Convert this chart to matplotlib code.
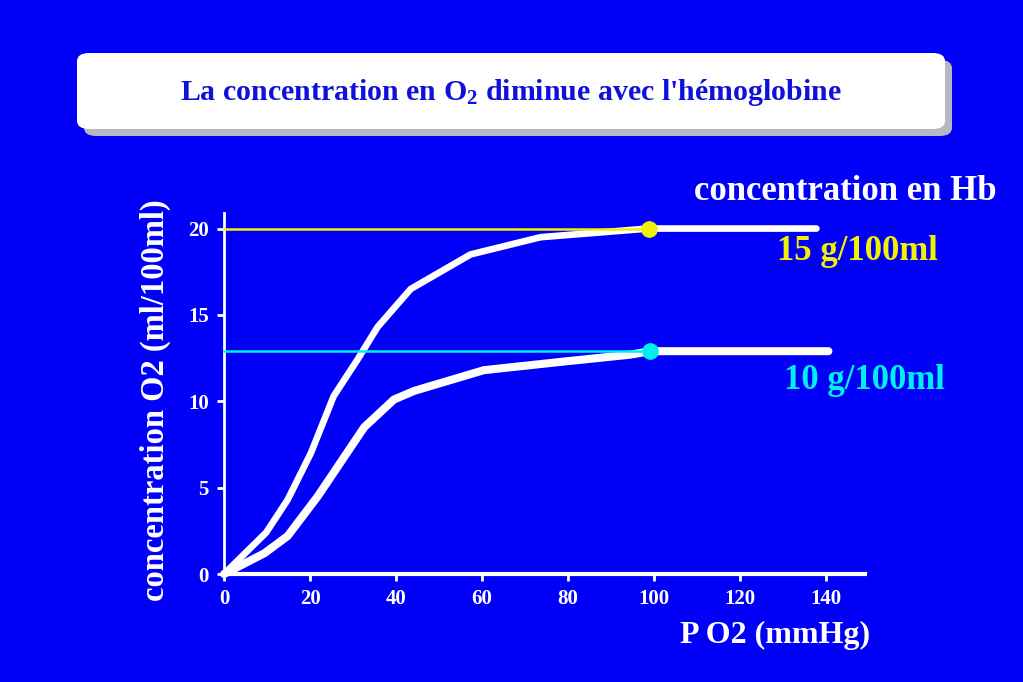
"""Courbes de dissociation de l'O2 pour deux concentrations d'hémoglobine."""

import matplotlib.pyplot as plt
from matplotlib.patches import FancyBboxPatch

BG = "#0000f8"

# PO2 (mmHg) -> concentration O2 (ml/100ml)
po2_hb15 = [0, 9.8, 14.8, 20.2, 25.5, 31, 35.7, 43.4, 57.3, 73.6, 98.7, 137.7]
o2_hb15 = [0, 2.4, 4.3, 7.0, 10.3, 12.4, 14.3, 16.5, 18.5, 19.5, 20.0, 20.0]
po2_hb10 = [0, 9.4, 14.8, 21.8, 32.6, 39.5, 44.2, 60.4, 79, 94.5, 99.1, 140.5]
o2_hb10 = [0, 1.2, 2.2, 4.5, 8.5, 10.1, 10.6, 11.8, 12.3, 12.7, 12.9, 12.9]

# points d'équilibre artériel (PO2 ~ 100 mmHg)
sat_x = [98.7, 99.1]
sat_y = [20.0, 12.9]
sat_colors = ["#f2f200", "#00f0f0"]
hb_labels = ["15 g/100ml", "10 g/100ml"]

x_ticks = [0, 20, 40, 60, 80, 100, 120, 140]
y_ticks = [0, 5, 10, 15, 20]

plt.rcParams["font.family"] = ["Liberation Serif", "DejaVu Serif"]
plt.rcParams["font.weight"] = "bold"
plt.rcParams["mathtext.fontset"] = "custom"
plt.rcParams["mathtext.rm"] = "Liberation Serif:bold"
plt.rcParams["mathtext.bf"] = "Liberation Serif:bold"
plt.rcParams["mathtext.default"] = "bf"

fig = plt.figure(figsize=(10.23, 6.82), dpi=100)
fig.patch.set_facecolor(BG)

# title box with shadow
W, H = 1023, 682
shadow = FancyBboxPatch((84 / W, 1 - 136 / H), 868 / W, 76 / H,
                        boxstyle="round,pad=0,rounding_size=0.012",
                        transform=fig.transFigure, facecolor="#b8b8c4",
                        edgecolor="none", zorder=1)
box = FancyBboxPatch((77 / W, 1 - 129 / H), 868 / W, 76 / H,
                     boxstyle="round,pad=0,rounding_size=0.012",
                     transform=fig.transFigure, facecolor="white",
                     edgecolor="none", zorder=2)
fig.patches.extend([shadow, box])
fig.text(511 / W, 1 - 92 / H,
         "La concentration en O$_2$ diminue avec l'hémoglobine",
         ha="center", va="center", color="#1010dc", fontsize=21.5,
         fontweight="bold", zorder=3)

ax = fig.add_axes([224 / W, 1 - 574 / H, (865 - 224) / W, (574 - 213) / H])
ax.set_facecolor(BG)
ax.set_xlim(0, 149)
ax.set_ylim(0, 20.9)

ax.plot(po2_hb15, o2_hb15, color="white", lw=4.8, solid_capstyle="round",
        solid_joinstyle="round", clip_on=False, zorder=3)
ax.plot(po2_hb10, o2_hb10, color="white", lw=5.8, solid_capstyle="round",
        solid_joinstyle="round", clip_on=False, zorder=3)

for x, y, c in zip(sat_x, sat_y, sat_colors):
    ax.plot([0, x], [y, y], color=c, lw=1.8, zorder=4, clip_on=False)
    ax.plot([x], [y], "o", color=c, ms=11, zorder=5, clip_on=False)

for s in ["top", "right"]:
    ax.spines[s].set_visible(False)
for s in ["left", "bottom"]:
    ax.spines[s].set_color("white")
ax.spines["left"].set_linewidth(2)
ax.spines["bottom"].set_linewidth(3)

ax.set_xticks(x_ticks)
ax.set_yticks(y_ticks)
ax.tick_params(colors="white", labelsize=15, width=2, length=5, pad=6)
for lab in ax.get_xticklabels() + ax.get_yticklabels():
    lab.set_fontweight("bold")

fig.text(155 / W, 1 - 400 / H, "concentration O2 (ml/100ml)", rotation=90,
         ha="center", va="center", color="white", fontsize=23.5,
         fontweight="bold")
fig.text(870 / W, 1 - 635 / H, "P O2 (mmHg)", ha="right", va="center",
         color="white", fontsize=23, fontweight="bold")
fig.text(997 / W, 1 - 192 / H, "concentration en Hb", ha="right",
         va="center", color="white", fontsize=25, fontweight="bold")
fig.text(938 / W, 1 - 252 / H, hb_labels[0], ha="right", va="center",
         color=sat_colors[0], fontsize=25, fontweight="bold")
fig.text(945 / W, 1 - 381 / H, hb_labels[1], ha="right", va="center",
         color=sat_colors[1], fontsize=25, fontweight="bold")

fig.savefig("out.png", dpi=100, facecolor=fig.get_facecolor())
plt.close(fig)
